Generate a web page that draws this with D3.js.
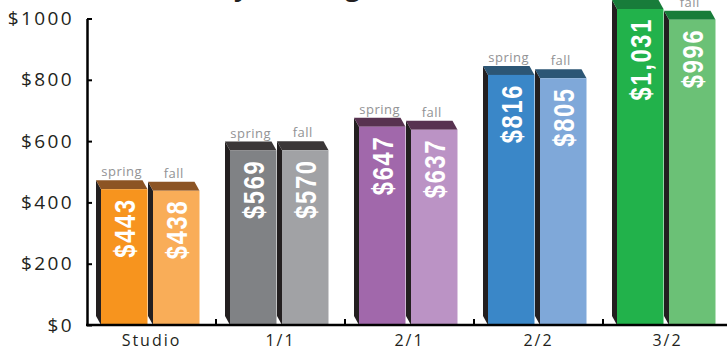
<!DOCTYPE html>
<html>
<head>
<meta charset="utf-8">
<script src="https://cdn.jsdelivr.net/npm/d3@7"></script>
<style>
  html, body { margin: 0; padding: 0; background: #fff; }
  svg { display: block; }
</style>
</head>
<body>
<svg id="chart" width="727" height="350"></svg>
<script>
// ---- data ----
const categories = ["Studio", "1/1", "2/1", "2/2", "3/2"];
const seasons = ["spring", "fall"];
const springValues = [443, 569, 647, 816, 1031];
const fallValues = [438, 570, 637, 805, 996];
const springLabels = ["$443", "$569", "$647", "$816", "$1,031"];
const fallLabels = ["$438", "$570", "$637", "$805", "$996"];
const yTicks = [0, 200, 400, 600, 800, 1000];
const title = "Monthly Average Rent";

// ---- styles ----
const frontColors = {
  spring: ["#f7941e", "#808285", "#a168ab", "#3a87c8", "#22b24b"],
  fall:   ["#f9ad58", "#a1a2a5", "#bb93c5", "#7fa8d9", "#6bc176"]
};
const topColors = ["#8c5424", "#3b3738", "#583250", "#2c5675", "#187c3a"];
const sideColor = "#231f20";
const depthX = 5, depthY = 9;

const svg = d3.select("#chart");

const x = d3.scaleBand().domain(categories).range([87, 732]).padding(0);
const x1 = d3.scaleBand().domain(seasons).range([14, 112.5]).paddingInner(0.106).paddingOuter(0);
const y = d3.scaleLinear().domain([0, 1000]).range([325, 18.5]);

const data = [];
categories.forEach((c, i) => {
  data.push({cat: c, i, season: "spring", value: springValues[i], label: springLabels[i]});
  data.push({cat: c, i, season: "fall", value: fallValues[i], label: fallLabels[i]});
});

// title (mostly above the visible area, as in the reference)
const titleFont = {family: "'Open Sans', sans-serif", size: 26, spacing: 2};
const probe = svg.append("text")
  .attr("font-family", titleFont.family).attr("font-weight", "bold")
  .attr("font-size", titleFont.size).attr("letter-spacing", titleFont.spacing)
  .text(title.slice(0, 6));
const preLen = probe.node().getComputedTextLength();
probe.remove();
svg.append("text")
  .attr("x", 234 - preLen).attr("y", -4)
  .attr("font-family", titleFont.family)
  .attr("font-weight", "bold")
  .attr("font-size", titleFont.size)
  .attr("letter-spacing", titleFont.spacing)
  .attr("fill", "#231f20")
  .text(title);

// bars
const g = svg.append("g");
const bars = g.selectAll("g.bar").data(data).join("g").attr("class", "bar");

bars.each(function(d) {
  const sel = d3.select(this);
  const xl = x(d.cat) + x1(d.season);
  const xr = xl + x1.bandwidth();
  const yt = y(d.value);
  const y0 = y(0);
  // side face
  sel.append("path")
    .attr("d", d3.line()([[xl - depthX, yt - depthY], [xl, yt], [xl, y0], [xl - depthX, y0 - depthY]]) + "Z")
    .attr("fill", sideColor);
  // top face
  sel.append("path")
    .attr("d", d3.line()([[xl - depthX, yt - depthY], [xr - depthX, yt - depthY], [xr, yt], [xl, yt]]) + "Z")
    .attr("fill", topColors[d.i]);
  // front face
  sel.append("rect")
    .attr("x", xl).attr("y", yt)
    .attr("width", xr - xl).attr("height", y0 - yt)
    .attr("fill", frontColors[d.season][d.i]);
  // season label
  sel.append("text")
    .attr("x", (xl + xr) / 2 - depthX / 2)
    .attr("y", yt - depthY - 4)
    .attr("text-anchor", "middle")
    .attr("font-family", "'Open Sans', sans-serif")
    .attr("font-size", 13)
    .attr("letter-spacing", 0.5)
    .attr("fill", "#929294")
    .text(d.season);
  // value label (condensed bold, rotated)
  sel.append("text")
    .attr("transform", `translate(${(xl + xr) / 2},${yt + 9}) rotate(-90) scale(0.82,1)`)
    .attr("text-anchor", "end")
    .attr("dy", "0.36em")
    .attr("font-family", "'Liberation Sans', Arial, sans-serif")
    .attr("font-weight", "bold")
    .attr("font-size", 29)
    .attr("letter-spacing", 2)
    .attr("fill", "#ffffff")
    .text(d.label);
});

// y axis
const yAxis = d3.axisLeft(y)
  .tickValues(yTicks)
  .tickFormat(d => "$" + d)
  .tickSizeInner(-5)
  .tickSizeOuter(0)
  .tickPadding(13);
const ya = svg.append("g").attr("transform", "translate(87,0)").call(yAxis);
ya.select(".domain").attr("stroke", "#000").attr("stroke-width", 2.5);
ya.selectAll(".tick line").attr("stroke", "#000").attr("stroke-width", 2);
ya.selectAll(".tick text")
  .attr("font-family", "'Open Sans', sans-serif")
  .attr("font-size", 19)
  .attr("letter-spacing", 2.4)
  .attr("fill", "#231f20");

// x axis
const xAxis = d3.axisBottom(x).tickSize(0).tickPadding(10);
const xa = svg.append("g").attr("transform", "translate(0,325)").call(xAxis);
xa.select(".domain").remove();
xa.append("line")
  .attr("x1", 86).attr("x2", 727).attr("y1", 0).attr("y2", 0)
  .attr("stroke", "#000").attr("stroke-width", 2.5);
xa.selectAll(".tick text")
  .attr("font-family", "'Open Sans', sans-serif")
  .attr("font-size", 16)
  .attr("letter-spacing", 2)
  .attr("fill", "#231f20");
// boundary ticks between categories
xa.selectAll("line.bound")
  .data(categories.slice(1))
  .join("line")
  .attr("class", "bound")
  .attr("x1", d => x(d)).attr("x2", d => x(d))
  .attr("y1", 0).attr("y2", -6)
  .attr("stroke", "#000").attr("stroke-width", 2);
</script>
</body>
</html>
